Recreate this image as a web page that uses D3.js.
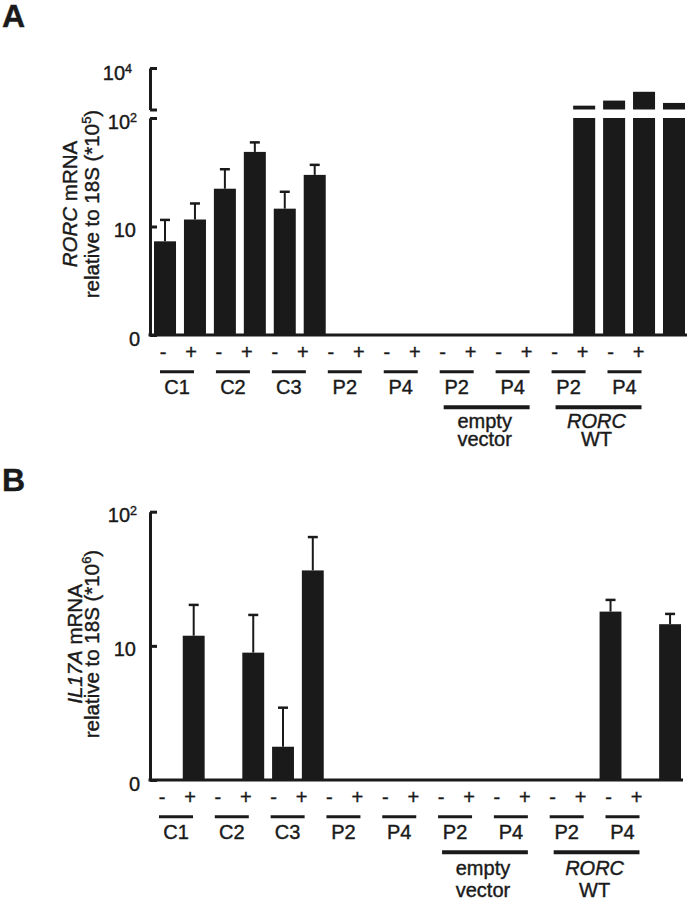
<!DOCTYPE html>
<html>
<head>
<meta charset="utf-8">
<script src="https://cdn.jsdelivr.net/npm/d3@7"></script>
<style>
  html, body { margin: 0; padding: 0; background: #fff; }
  svg { display: block; }
  text { font-family: "Liberation Sans", Arimo, Arial, sans-serif; fill: #1a1a1a; stroke: #1a1a1a; stroke-width: 0.4px; }
</style>
</head>
<body>
<svg id="chart" width="690" height="901"></svg>
<script>
// ---------------- data ----------------
const groups = ["C1", "C2", "C3", "P2", "P4", "P2", "P4", "P2", "P4"];
const treatments = ["-", "+"];
const vectorLabels = [["empty", "vector"], ["RORC", "WT"]];
const vectorItalic = [[false, false], [true, false]];
const vectorSpans = [[5, 6], [7, 8]];

// Panel A: RORC mRNA relative to 18S (*10^5)   (0 = not detected)
const rorcMean   = [7.3, 11.6, 22.3, 48.7, 14.6, 29.9, 0, 0, 0, 0, 0, 0, 0, 0, 153, 269, 714, 207];
const rorcErrTop = [11.5, 16.3, 33.7, 59.6, 20.9, 37.0, null, null, null, null, null, null, null, null, null, null, null, null];
const rorcTicksLow = [1, 10, 100];
const rorcTickLabelsLow = [["0", ""], ["10", ""], ["10", "2"]];
const rorcTicksUp = [100, 10000];
const rorcTickLabelsUp = [null, ["10", "4"]];

// Panel B: IL17A mRNA relative to 18S (*10^6)
const il17Mean   = [0, 11.9, 0, 8.9, 1.77, 36.5, 0, 0, 0, 0, 0, 0, 0, 0, 0, 18.0, 0, 14.5];
const il17ErrTop = [null, 20.2, null, 17.0, 3.46, 64.7, null, null, null, null, null, null, null, null, null, 22.0, null, 17.3];
const il17Ticks = [1, 10, 100];
const il17TickLabels = [["0", ""], ["10", ""], ["10", "2"]];

// ---------------- drawing ----------------
const FS = 20;
const INK = "#1a1a1a";
const svg = d3.select("#chart");

function htext(g, x, y, str, anchor = "middle", size = FS, italic = false) {
  return g.append("text")
    .attr("x", x).attr("y", y)
    .attr("text-anchor", anchor)
    .style("font-size", size + "px")
    .style("font-style", italic ? "italic" : "normal")
    .text(str);
}
function supText(g, x, y, base, sup) {
  const t = g.append("text")
    .attr("x", x).attr("y", y)
    .attr("text-anchor", "end")
    .style("font-size", FS + "px");
  t.append("tspan").text(base);
  if (sup) t.append("tspan").attr("dy", -7).style("font-size", "12.5px").text(sup);
  return t;
}

const bars = d3.range(18);

function drawPanel(cfg) {
  const g = svg.append("g");
  const x = d3.scaleBand().domain(bars).range(cfg.xRange).paddingInner(0.265).paddingOuter(0.134);
  const yLow = d3.scaleLog().domain([1, 100]).range([cfg.base, cfg.top]);
  const axisX = 150;
  const clampV = v => Math.max(1, Math.min(100, v));

  // bars (lower segment)
  g.selectAll("rect.low").data(bars.filter(i => cfg.mean[i] > 1)).join("rect")
    .attr("class", "low")
    .attr("x", i => x(i)).attr("width", x.bandwidth())
    .attr("y", i => yLow(clampV(cfg.mean[i])))
    .attr("height", i => cfg.base - yLow(clampV(cfg.mean[i])))
    .attr("fill", INK);

  // upper (broken) segment
  if (cfg.yUp) {
    const yUp = d3.scaleLog().domain([100, 10000]).range(cfg.yUp);
    g.selectAll("rect.up").data(bars.filter(i => cfg.mean[i] > 100)).join("rect")
      .attr("class", "up")
      .attr("x", i => x(i)).attr("width", x.bandwidth())
      .attr("y", i => yUp(cfg.mean[i]))
      .attr("height", i => yUp(100) - yUp(cfg.mean[i]))
      .attr("fill", INK);
    const ax = g.append("g").attr("transform", `translate(${axisX},0)`)
      .call(d3.axisLeft(yUp).tickValues(cfg.ticksUp).tickSizeInner(-7).tickSizeOuter(0).tickFormat(() => ""));
    ax.select(".domain").attr("stroke", INK).attr("stroke-width", 3);
    ax.selectAll(".tick line").attr("stroke", INK).attr("stroke-width", 3);
    cfg.ticksUp.forEach((t, k) => {
      const lab = cfg.tickLabelsUp[k];
      if (lab) supText(g, axisX - 18, yUp(t) + 12, lab[0], lab[1]);
    });
  }

  // error bars
  const eb = bars.filter(i => cfg.err[i] != null);
  g.selectAll("line.err").data(eb).join("line")
    .attr("x1", i => x(i) + x.bandwidth() / 2).attr("x2", i => x(i) + x.bandwidth() / 2)
    .attr("y1", i => yLow(clampV(cfg.mean[i]))).attr("y2", i => yLow(cfg.err[i]))
    .attr("stroke", INK).attr("stroke-width", 2);
  g.selectAll("line.cap").data(eb).join("line")
    .attr("x1", i => x(i) + x.bandwidth() / 2 - 5).attr("x2", i => x(i) + x.bandwidth() / 2 + 5)
    .attr("y1", i => yLow(cfg.err[i])).attr("y2", i => yLow(cfg.err[i]))
    .attr("stroke", INK).attr("stroke-width", 2.5);

  // lower y axis
  const ax = g.append("g").attr("transform", `translate(${axisX},0)`)
    .call(d3.axisLeft(yLow).tickValues(cfg.ticks).tickSizeInner(-7).tickSizeOuter(0).tickFormat(() => ""));
  ax.select(".domain").attr("stroke", INK).attr("stroke-width", 3);
  ax.selectAll(".tick line").attr("stroke", INK).attr("stroke-width", 3);
  cfg.ticks.forEach((t, k) => {
    const lab = cfg.tickLabels[k];
    const dx = lab[0] === "0" ? 10 : (lab[1] ? 13 : 14);
    supText(g, axisX - dx, yLow(t) + 10.5, lab[0], lab[1]);
  });
  // baseline
  g.append("line").attr("x1", axisX - 1.5).attr("x2", cfg.xRange[1] - 2)
    .attr("y1", cfg.base).attr("y2", cfg.base).attr("stroke", INK).attr("stroke-width", 3);

  // y title
  const t1 = g.append("text")
    .attr("transform", `translate(${cfg.title1X},${cfg.titleY}) rotate(-90)`)
    .attr("text-anchor", "middle").style("font-size", "20.5px");
  t1.append("tspan").style("font-style", "italic").text(cfg.title1[0]);
  t1.append("tspan").text(cfg.title1[1]);
  const t2 = g.append("text")
    .attr("transform", `translate(${cfg.title2X},${cfg.titleY}) rotate(-90)`)
    .attr("text-anchor", "middle").style("font-size", "20.5px");
  t2.append("tspan").text("relative to 18S (*10");
  t2.append("tspan").attr("dy", -8).style("font-size", "13px").text(cfg.exp);
  t2.append("tspan").attr("dy", 8).text(")");

  // category labels
  const lx = d3.scaleLinear().domain([0, groups.length - 1]).range(cfg.labRange);
  groups.forEach((name, gi) => {
    treatments.forEach((tr, ti) => {
      htext(g, lx(gi) + (ti === 0 ? -14 : 14), cfg.base + 24, tr);
    });
    g.append("line").attr("x1", lx(gi) - 17).attr("x2", lx(gi) + 17)
      .attr("y1", cfg.base + 36.7).attr("y2", cfg.base + 36.7)
      .attr("stroke", INK).attr("stroke-width", 3);
    htext(g, lx(gi), cfg.base + 59, name);
  });
  vectorSpans.forEach((sp, k) => {
    const x0 = lx(sp[0]) - 13, x1 = lx(sp[1]) + 17;
    const cx = (x0 + x1) / 2 - 2;
    g.append("line").attr("x1", x0).attr("x2", x1)
      .attr("y1", cfg.base + 72.3).attr("y2", cfg.base + 72.3)
      .attr("stroke", INK).attr("stroke-width", 4);
    const vt = g.append("text").attr("text-anchor", "middle").style("font-size", FS + "px");
    vectorLabels[k].forEach((s, j) => {
      vt.append("tspan").attr("x", cx).attr("y", cfg.base + cfg.vecY[j])
        .style("font-style", vectorItalic[k][j] ? "italic" : "normal").text(s);
    });
  });

  // panel letter
  g.append("text").attr("x", 2).attr("y", cfg.letterY)
    .style("font-size", "32px").style("font-weight", "bold").text(cfg.letter);
}

drawPanel({
  letter: "A", letterY: 27,
  base: 335, top: 118, yUp: [109.5, 68],
  xRange: [150, 689],
  mean: rorcMean, err: rorcErrTop,
  ticks: rorcTicksLow, tickLabels: rorcTickLabelsLow,
  ticksUp: rorcTicksUp, tickLabelsUp: rorcTickLabelsUp,
  title1: ["RORC", " mRNA"], exp: "5",
  title1X: 77, title2X: 99, titleY: 204,
  labRange: [177, 624.5],
  vecY: [93, 111]
});
drawPanel({
  letter: "B", letterY: 491,
  base: 780, top: 511.7, yUp: null,
  xRange: [149, 685],
  mean: il17Mean, err: il17ErrTop,
  ticks: il17Ticks, tickLabels: il17TickLabels,
  title1: ["IL17A", " mRNA"], exp: "6",
  title1X: 81.5, title2X: 99, titleY: 644,
  labRange: [176, 622.5],
  vecY: [95, 117]
});
</script>
</body>
</html>
